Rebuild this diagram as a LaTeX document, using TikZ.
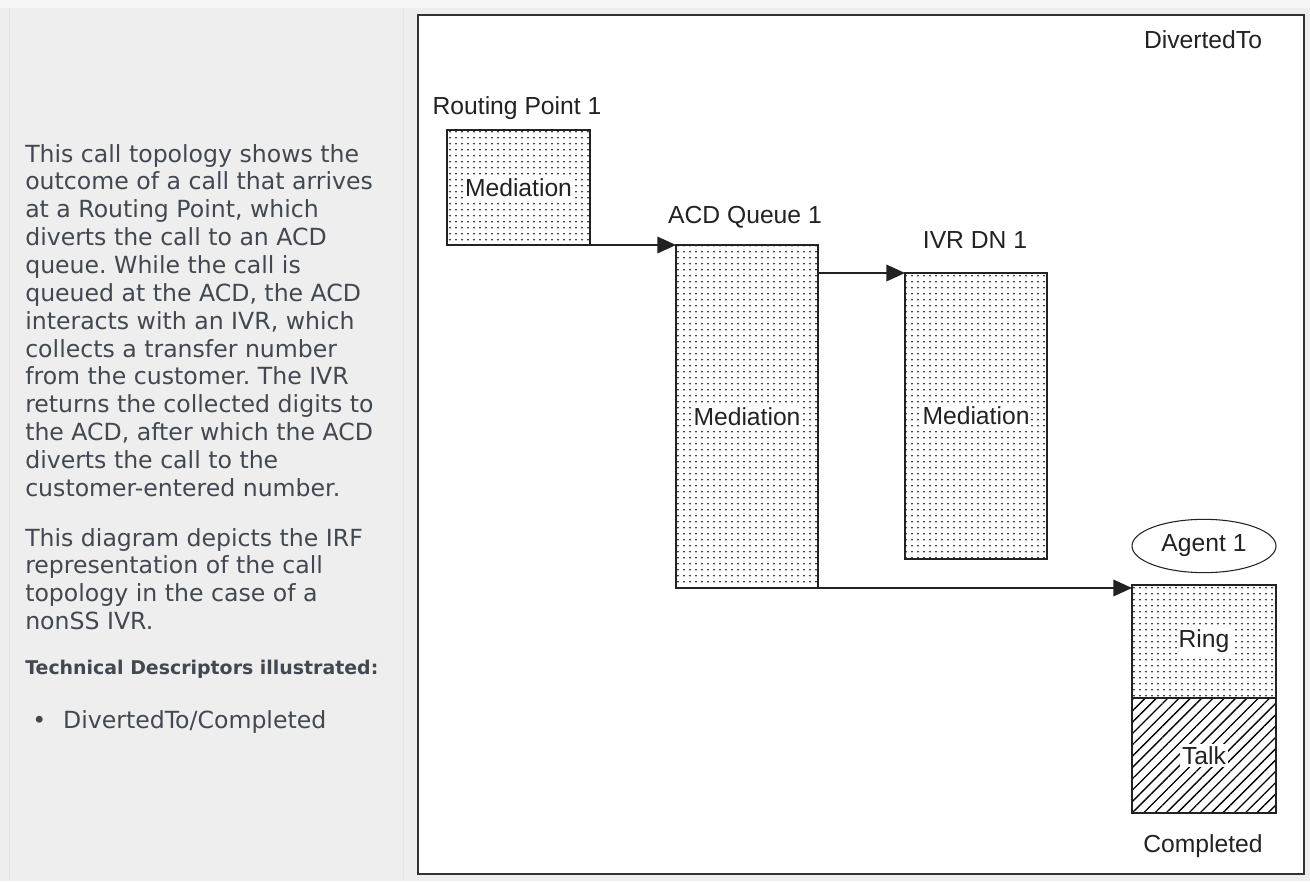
\documentclass[tikz,border=0pt]{standalone}
\usepackage{fontspec}
\usetikzlibrary{arrows.meta,patterns.meta,shapes.geometric}
\newfontfamily\diagfont{Liberation Sans}
\newfontfamily\sidefont{DejaVu Sans}
\frenchspacing
\definecolor{pagegrey}{HTML}{EEEEEE}
\definecolor{stripgrey}{HTML}{F6F6F6}
\definecolor{rulegrey}{HTML}{E2E6EC}
\definecolor{sidetext}{HTML}{414851}
\definecolor{inkgrey}{HTML}{222222}
\tikzset{
	side/.style={anchor=north west, align=left, inner sep=0pt, text=sidetext,
		font=\sidefont\fontsize{17.7}{20.9}\selectfont},
	medbox/.style={draw=inkgrey, line width=1.1pt, anchor=north west, inner sep=0pt, outer sep=0pt,
		pattern={Dots[distance=4.5pt, radius=0.65pt]}},
	talkbox/.style={draw=inkgrey, line width=1.1pt, anchor=north west, inner sep=0pt, outer sep=0pt,
		pattern={Lines[angle=45, distance=6pt, line width=1pt]}},
	blank/.style={fill=white, inner sep=1.5pt},
	title/.style={anchor=base, inner sep=0pt},
	flow/.style={-{Triangle[length=14pt, width=12.5pt]}, line width=1pt, draw=inkgrey},
}

\begin{document}
\begin{tikzpicture}[x=0.75pt, y=-0.75pt, every node/.style={font=\diagfont\fontsize{18.5}{22}\selectfont, text=inkgrey}]
	% page and side panel
	\fill[pagegrey] (0,0) rectangle (1310,881);
	\fill[stripgrey] (0,0) rectangle (1310,8);
	\draw[rulegrey, line width=1pt] (9.5,8) -- (9.5,881);
	\draw[rulegrey, line width=1pt] (403.5,8) -- (403.5,881);
	\node[side] (intro) at (25,143.8) {This call topology shows the\\
		outcome of a call that arrives\\
		at a Routing Point, which\\
		diverts the call to an ACD\\
		queue. While the call is\\
		queued at the ACD, the ACD\\
		interacts with an IVR, which\\
		collects a transfer number\\
		from the customer. The IVR\\
		returns the collected digits to\\
		the ACD, after which the ACD\\
		diverts the call to the\\
		customer-entered number.};
	\node[side] (depicts) at (25,527.8) {This diagram depicts the IRF\\
		representation of the call\\
		topology in the case of a\\
		nonSS IVR.};
	\node[side, anchor=base west, font=\sidefont\bfseries\fontsize{14.2}{17}\selectfont] (techhead) at (25,674) {Technical Descriptors illustrated:};
	\node[side, anchor=base west] (techitem) at (32,728) {\textbullet\hspace{12.7pt}DivertedTo/Completed};

	% diagram
	\draw[line width=1.5pt, black!80, fill=white] (418,15) rectangle (1304,874);
	\node[title] (divto) at (1203,48) {DivertedTo};

	\node[medbox, minimum width=107.25pt, minimum height=86.25pt] (rp) at (447,130) {};
	\node[blank] (rpmed) at (rp.center) {Mediation};
	\node[title] (rplbl) at (517,114) {Routing Point 1};

	\node[medbox, minimum width=106.5pt, minimum height=257.25pt] (acd) at (676,245) {};
	\node[blank] (acdmed) at (acd.center) {Mediation};
	\node[title] (acdlbl) at (745,223) {ACD Queue 1};

	\node[medbox, minimum width=106.5pt, minimum height=214.5pt] (ivr) at (905,273) {};
	\node[blank] (ivrmed) at (ivr.center) {Mediation};
	\node[title] (ivrlbl) at (975,248) {IVR DN 1};

	\node[draw=inkgrey, line width=0.8pt, ellipse, minimum width=108pt, minimum height=40pt] (agent) at (1204,546) {Agent 1};
	\node[medbox, minimum width=108pt, minimum height=84.75pt] (ring) at (1132,585) {};
	\node[blank] (ringtxt) at (ring.center) {Ring};
	\node[talkbox, minimum width=108pt, minimum height=86.25pt] (talk) at (ring.south west) {};
	\node[blank] (talktxt) at (talk.center) {Talk};
	\node[title] (done) at (1203,852) {Completed};

	\draw[flow] (rp.south east) -- (acd.north west);
	\draw[flow] (acd.east |- ivr.north) -- (ivr.north west);
	\draw[flow] (acd.south west) -- (acd.south west -| ring.west);
\end{tikzpicture}
\end{document}
